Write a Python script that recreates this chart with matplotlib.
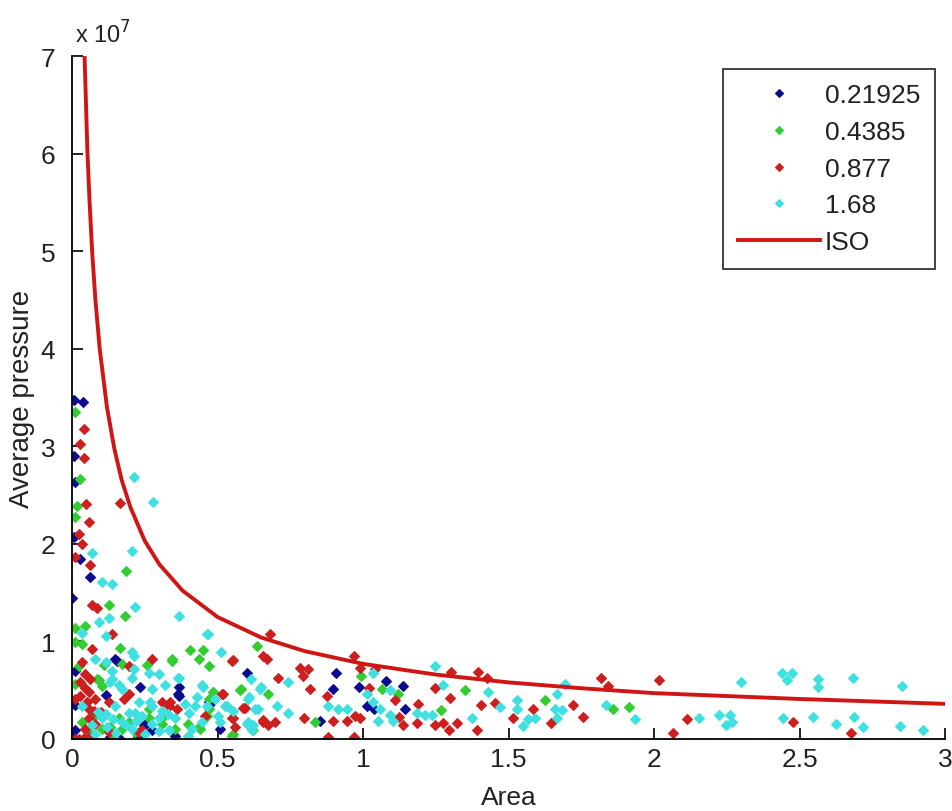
import numpy as np
import matplotlib
matplotlib.use("Agg")
import matplotlib.pyplot as plt

plt.rcParams['font.family'] = ['Liberation Sans', 'DejaVu Sans']

# series: contact area vs average pressure (pressure in units of 1e7)
blue_area = [0.006, 0.037, 0.006, 0.011, 0.006, 0.029, 0.0, 0.063, 0.149, 0.011, 0.235, 0.011,
             0.0, 0.367, 0.367, 0.252, 0.355, 0.115, 0.137, 0.011, 0.275, 0.469, 0.509, 0.600,
             0.907, 0.896, 0.987, 1.013, 0.852, 0.474, 1.079, 1.136, 1.038, 1.144, 0.153, 0.228,
             0.165, 0.13, 0.365, 0.246, 0.011]
blue_p = [3.47, 3.45, 2.90, 2.63, 2.07, 1.84, 1.44, 1.66, 0.82, 0.70, 0.53, 0.35,
          0.07, 0.53, 0.44, 0.14, 0.03, 0.45, 0.0, 0.09, 0.09, 0.38, 0.10, 0.68,
          0.68, 0.51, 0.53, 0.34, 0.18, 0.36, 0.59, 0.54, 0.31, 0.31, 0.80, 0.02,
          0.0, 0.02, 0.46, 0.14, 0.0]

green_area = [0.009, 0.029, 0.017, 0.011, 0.186, 0.126, 0.011, 0.046, 0.011, 0.034, 0.183, 0.166,
              0.109, 0.258, 0.344, 0.406, 0.435, 0.470, 0.086, 0.103, 0.011, 0.075, 0.172, 0.263,
              0.309, 0.435, 0.470, 0.023, 0.092, 0.172, 0.160, 0.103, 0.195, 0.218, 0.263, 0.309,
              0.034, 0.132, 0.343, 0.486, 0.577, 0.400, 0.440, 0.469, 0.549, 0.354, 0.635, 0.451,
              0.58, 0.675, 0.484, 0.992, 0.835, 0.463, 0.554, 0.623, 1.064, 1.121, 1.351, 1.267,
              1.625, 1.86, 1.915, 0.06, 0.14]
green_p = [3.35, 2.66, 2.39, 2.27, 1.72, 1.37, 1.14, 1.16, 0.99, 0.97, 1.26, 0.93,
           0.76, 0.76, 0.82, 0.91, 0.82, 0.75, 0.61, 0.54, 0.56, 0.24, 0.10, 0.31,
           0.22, 0.12, 0.41, 0.75, 0.60, 0.77, 0.22, 0.10, 0.17, 0.07, 0.22, 0.15,
           0.17, 0.12, 0.80, 0.48, 0.50, 0.15, 0.10, 0.31, 0.03, 0.10, 0.95, 0.91,
           0.51, 0.46, 0.48, 0.65, 0.17, 0.24, 0.05, 0.09, 0.51, 0.46, 0.50, 0.30,
           0.40, 0.31, 0.33, 0.05, 0.03]

red_area = [0.040, 0.029, 0.040, 0.048, 0.057, 0.023, 0.034, 0.011, 0.166, 0.063, 0.069, 0.086,
            0.137, 0.069, 0.034, 0.275, 0.195, 0.046, 0.063, 0.080, 0.057, 0.195, 0.178, 0.309,
            0.332, 0.023, 0.126, 0.241, 0.046, 0.011, 0.029, 0.057, 0.052, 0.075, 0.057, 0.080,
            0.057, 0.126, 0.229, 0.029, 0.549, 0.514, 0.594, 0.337, 0.360, 0.549, 0.560, 0.657,
            0.675, 0.457, 0.680, 0.969, 0.990, 0.657, 0.669, 0.552, 0.784, 0.812, 0.795, 0.709,
            0.818, 0.518, 0.875, 0.589, 0.554, 0.657, 0.698, 0.797, 0.898, 0.944, 0.973, 0.881,
            0.969, 1.041, 1.301, 1.396, 1.425, 1.817, 1.843, 1.021, 1.247, 1.299, 1.11, 1.19,
            1.404, 1.454, 1.583, 1.723, 0.99, 1.125, 1.136, 1.184, 1.247, 1.274, 1.297, 1.322,
            1.391, 1.514, 1.645, 1.755, 2.018, 2.114, 2.064, 2.479, 2.678, 0.011, 0.04, 0.07,
            0.10, 0.045]
red_p = [3.18, 3.02, 2.88, 2.41, 2.22, 2.10, 2.00, 1.86, 2.42, 1.78, 1.37, 1.34,
         1.08, 0.92, 0.79, 0.82, 0.75, 0.67, 0.61, 0.41, 0.31, 0.46, 0.41, 0.38,
         0.34, 0.0, 0.07, 0.09, 0.10, 0.41, 0.58, 0.48, 0.38, 0.29, 0.21, 0.15,
         0.02, 0.38, 0.07, 0.44, 0.80, 0.46, 0.32, 0.38, 0.31, 0.21, 0.12, 0.19,
         0.14, 0.24, 1.08, 0.85, 0.73, 0.85, 0.82, 0.81, 0.73, 0.72, 0.65, 0.62,
         0.51, 0.46, 0.44, 0.32, 0.21, 0.17, 0.17, 0.21, 0.18, 0.18, 0.24, 0.02,
         0.02, 0.72, 0.69, 0.69, 0.63, 0.62, 0.54, 0.52, 0.52, 0.42, 0.40, 0.36,
         0.35, 0.37, 0.31, 0.35, 0.21, 0.23, 0.14, 0.16, 0.14, 0.16, 0.09, 0.16,
         0.09, 0.21, 0.16, 0.23, 0.60, 0.20, 0.06, 0.17, 0.06, 0.0, 0.01, 0.02,
         0.28, 0.52]

cyan_area = [0.212, 0.277, 0.069, 0.206, 0.103, 0.137, 0.218, 0.126, 0.092, 0.034, 0.115, 0.212,
             0.367, 0.464, 0.080, 0.137, 0.206, 0.263, 0.298, 0.367, 0.447, 0.132, 0.172, 0.149,
             0.218, 0.269, 0.309, 0.103, 0.172, 0.241, 0.355, 0.401, 0.069, 0.034, 0.206, 0.412,
             0.447, 0.115, 0.206, 0.212, 0.137, 0.160, 0.275, 0.321, 0.229, 0.275, 0.115, 0.195,
             0.298, 0.275, 0.332, 0.365, 0.451, 0.428, 0.491, 0.388, 0.423, 0.526, 0.606, 0.646,
             0.629, 0.503, 0.606, 0.617, 0.400, 0.331, 0.468, 0.511, 0.614, 0.648, 0.743, 0.609,
             0.703, 0.640, 0.532, 0.554, 0.743, 0.600, 0.623, 0.881, 0.915, 0.944, 1.013, 0.509,
             0.463, 1.247, 1.035, 1.276, 1.431, 1.694, 1.093, 1.035, 1.058, 1.053, 1.104, 1.093,
             1.184, 1.213, 1.236, 1.374, 1.471, 1.528, 1.528, 1.551, 1.568, 1.591, 1.66, 1.683,
             1.668, 1.835, 1.935, 1.665, 2.298, 2.439, 2.473, 2.456, 2.562, 2.562, 2.685, 2.851,
             2.156, 2.224, 2.261, 2.247, 2.267, 2.444, 2.547, 2.624, 2.687, 2.719, 2.845, 2.923,
             0.08, 0.12, 0.15, 0.185, 0.25, 0.30, 0.09, 0.14, 0.22]
cyan_p = [2.69, 2.43, 1.91, 1.93, 1.61, 1.59, 1.35, 1.24, 1.20, 1.09, 1.06, 0.85,
          1.26, 1.08, 0.82, 0.70, 0.63, 0.68, 0.67, 0.63, 0.55, 0.58, 0.51, 0.34,
          0.27, 0.38, 0.29, 0.21, 0.17, 0.24, 0.21, 0.27, 0.14, 0.34, 0.10, 0.10,
          0.17, 0.79, 0.89, 0.72, 0.61, 0.55, 0.51, 0.55, 0.38, 0.34, 0.26, 0.27,
          0.21, 0.15, 0.09, 0.63, 0.53, 0.43, 0.41, 0.36, 0.34, 0.34, 0.41, 0.51,
          0.31, 0.24, 0.17, 0.09, 0.03, 0.26, 1.08, 0.89, 0.61, 0.53, 0.58, 0.43,
          0.34, 0.31, 0.34, 0.29, 0.27, 0.15, 0.14, 0.34, 0.31, 0.31, 0.46, 0.17,
          0.34, 0.75, 0.68, 0.55, 0.48, 0.56, 0.50, 0.38, 0.31, 0.18, 0.18, 0.25,
          0.27, 0.25, 0.25, 0.22, 0.33, 0.40, 0.31, 0.13, 0.20, 0.21, 0.31, 0.30,
          0.21, 0.35, 0.20, 0.46, 0.58, 0.68, 0.68, 0.60, 0.61, 0.53, 0.62, 0.54,
          0.21, 0.25, 0.25, 0.14, 0.17, 0.21, 0.23, 0.15, 0.23, 0.12, 0.13, 0.09,
          0.05, 0.12, 0.06, 0.14, 0.05, 0.08, 0.28, 0.20, 0.18]

# ISO reference curve
iso_area = [0.043, 0.053, 0.060, 0.069, 0.080, 0.095, 0.120, 0.145, 0.170, 0.20, 0.25, 0.30,
            0.38, 0.50, 0.65, 0.80, 1.0, 1.25, 1.5, 1.75, 2.0, 2.5, 3.0]
iso_p = [7.0, 6.0, 5.52, 5.0, 4.51, 4.0, 3.40, 2.98, 2.66, 2.38, 2.03, 1.79,
         1.52, 1.25, 1.04, 0.90, 0.77, 0.66, 0.58, 0.52, 0.47, 0.41, 0.36]

labels = ['0.21925', '0.4385', '0.877', '1.68']
colors = ['#0c0c90', '#33cc33', '#cc2020', '#40e0e0']

fig = plt.figure(figsize=(9.53, 8.12), dpi=100)
ax = fig.add_axes([0.0756, 0.0887, 0.9160, 0.8411])

scale = 1e7
series = [(blue_area, blue_p), (green_area, green_p), (red_area, red_p), (cyan_area, cyan_p)]
for (xs, ys), lab, c in zip(series, labels, colors):
    ax.plot(xs, np.array(ys) * scale, 'D', color=c, ms=5.2, mew=0.8, ls='none', label=lab)
ax.plot(iso_area, np.array(iso_p) * scale, '-', color='#d01515', lw=2.8, label='ISO')

ax.set_xlim(0, 3)
ax.set_ylim(0, 7e7)
ax.set_xticks(np.arange(0, 3.01, 0.5))
ax.set_xticklabels(['0', '0.5', '1', '1.5', '2', '2.5', '3'])
ax.set_yticks(np.arange(0, 7.01, 1) * scale)
ax.set_yticklabels([str(i) for i in range(8)])
ax.text(0.003, 1.012, r'x 10$^{7}$', transform=ax.transAxes, fontsize=17, ha='left', va='bottom',
        color='#222222')

for s in ['top', 'right']:
    ax.spines[s].set_visible(False)
for s in ['left', 'bottom']:
    ax.spines[s].set_linewidth(1.3)
ax.tick_params(direction='in', length=8, width=1.2, labelsize=19, labelcolor='#222222')
ax.tick_params(axis='x', pad=6)
ax.tick_params(axis='y', pad=12)

ax.set_xlabel('Area', fontsize=19, labelpad=10, color='#222222')
ax.set_ylabel('Average pressure', fontsize=20, labelpad=4, color='#222222')

leg = ax.legend(loc='upper right', bbox_to_anchor=(0.9885, 0.981), fontsize=19,
                frameon=True, fancybox=False, edgecolor='black', markerscale=0.75,
                handlelength=3.1, handletextpad=0.2, labelspacing=0.48, borderpad=0.55,
                borderaxespad=0)
leg.get_frame().set_linewidth(1.3)
for t in leg.get_texts():
    t.set_color('#222222')

fig.savefig('out.png', dpi=100)
